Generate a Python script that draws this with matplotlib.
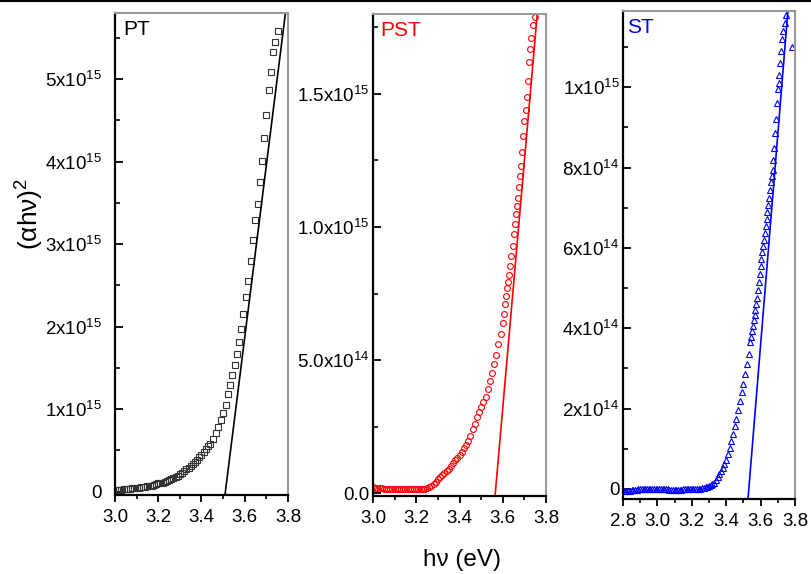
import matplotlib
matplotlib.use("Agg")
import matplotlib.pyplot as plt
from matplotlib.lines import Line2D
from matplotlib.ticker import MultipleLocator

plt.rcParams['font.family'] = ['Liberation Sans', 'DejaVu Sans']
plt.rcParams['mathtext.fontset'] = 'custom'
plt.rcParams['mathtext.rm'] = 'Liberation Sans'
plt.rcParams['mathtext.default'] = 'regular'

# PT (squares, black), y in 1e15
pt_x = [3.00, 3.01, 3.02, 3.03, 3.04, 3.05, 3.06, 3.07, 3.08, 3.09, 3.10, 3.11,
        3.12, 3.13, 3.14, 3.15, 3.16, 3.17, 3.18, 3.19, 3.20, 3.21, 3.22, 3.23,
        3.24, 3.25, 3.26, 3.27, 3.28, 3.29, 3.30, 3.31, 3.32, 3.33, 3.34, 3.35,
        3.36, 3.37, 3.38, 3.39, 3.40, 3.41, 3.42, 3.43, 3.44, 3.455,
        3.467, 3.478, 3.488, 3.498, 3.512, 3.523, 3.532, 3.542, 3.555, 3.565,
        3.573, 3.581, 3.593, 3.606, 3.616, 3.628, 3.640, 3.647, 3.663, 3.670,
        3.678, 3.690, 3.700, 3.712, 3.722, 3.731, 3.742, 3.752]
pt_y = [0.02, 0.02, 0.02, 0.025, 0.03, 0.03, 0.03, 0.035, 0.04, 0.045, 0.05, 0.05,
        0.055, 0.06, 0.06, 0.065, 0.07, 0.075, 0.08, 0.09, 0.10, 0.105, 0.11, 0.12,
        0.13, 0.14, 0.15, 0.165, 0.18, 0.195, 0.21, 0.23, 0.25, 0.27, 0.29, 0.315,
        0.34, 0.365, 0.39, 0.42, 0.45, 0.485, 0.52, 0.55, 0.58, 0.64,
        0.71, 0.79, 0.87, 0.95, 1.05, 1.18, 1.29, 1.41, 1.53, 1.67,
        1.81, 1.97, 2.15, 2.36, 2.55, 2.79, 3.05, 3.29, 3.49, 3.75,
        4.01, 4.29, 4.57, 4.87, 5.09, 5.33, 5.45, 5.58]
pt_fit_x = [3.508, 3.80]
pt_fit_y = [-0.05, 6.05]

# PST (circles, red), y in 1e14
pst_x = [3.00, 3.01, 3.02, 3.03, 3.04, 3.05, 3.06, 3.07, 3.08, 3.09, 3.10, 3.11,
         3.12, 3.13, 3.14, 3.15, 3.16, 3.17, 3.18, 3.19, 3.20, 3.21, 3.22, 3.23,
         3.24, 3.25, 3.26, 3.27, 3.28, 3.29, 3.30, 3.31, 3.32, 3.33, 3.34, 3.35,
         3.36, 3.37, 3.38, 3.39, 3.40, 3.41, 3.42, 3.43, 3.44, 3.45, 3.46, 3.47,
         3.48, 3.49, 3.50, 3.51, 3.52, 3.53, 3.54, 3.55, 3.56, 3.57, 3.58, 3.59,
         3.60, 3.605, 3.61, 3.615, 3.62, 3.625, 3.63, 3.635, 3.64, 3.645, 3.65,
         3.655, 3.66, 3.665, 3.67, 3.675, 3.68, 3.685, 3.69, 3.695, 3.70, 3.705,
         3.71, 3.715, 3.72, 3.725, 3.73, 3.74, 3.75]
pst_y = [0.22, 0.21, 0.20, 0.20, 0.19, 0.18, 0.18, 0.18, 0.17, 0.17, 0.17, 0.16,
         0.16, 0.16, 0.16, 0.15, 0.15, 0.15, 0.15, 0.15, 0.15, 0.15, 0.16, 0.17,
         0.18, 0.21, 0.24, 0.29, 0.34, 0.42, 0.52, 0.61, 0.70, 0.77, 0.84, 0.93,
         1.02, 1.13, 1.24, 1.34, 1.45, 1.57, 1.70, 1.83, 1.96, 2.17, 2.40, 2.62,
         2.85, 3.05, 3.25, 3.42, 3.60, 3.90, 4.20, 4.50, 4.85, 5.20, 5.60, 6.00,
         6.40, 6.75, 7.10, 7.40, 7.70, 7.95, 8.20, 8.55, 8.90, 9.30, 9.75,
         10.1, 10.5, 10.8, 11.1, 11.5, 11.9, 12.3, 12.8, 13.4, 14.0, 14.4,
         14.9, 15.5, 16.2, 16.7, 17.1, 17.6, 17.9]
pst_fit_x = [3.562, 3.77]
pst_fit_y = [-0.3, 19.0]

# ST (triangles, blue), y in 1e14
st_x = [2.80, 2.81, 2.82, 2.83, 2.84, 2.85, 2.86, 2.87, 2.88, 2.89, 2.90, 2.91,
        2.92, 2.93, 2.94, 2.95, 2.96, 2.97, 2.98, 2.99, 3.00, 3.01, 3.02, 3.03,
        3.04, 3.05, 3.06, 3.07, 3.08, 3.09, 3.10, 3.11, 3.12, 3.13, 3.14, 3.15,
        3.16, 3.17, 3.18, 3.19, 3.20, 3.21, 3.22, 3.23, 3.24, 3.25, 3.26, 3.27,
        3.28, 3.29, 3.30, 3.31, 3.32, 3.33, 3.34, 3.35, 3.36, 3.37, 3.38, 3.39,
        3.40, 3.41, 3.42, 3.43, 3.44, 3.45, 3.46, 3.47, 3.48, 3.49, 3.50, 3.51,
        3.52, 3.53, 3.54, 3.545, 3.55, 3.555, 3.56, 3.565, 3.57, 3.575, 3.58,
        3.585, 3.59, 3.595, 3.60, 3.605, 3.61, 3.615, 3.62, 3.625, 3.63, 3.635,
        3.64, 3.645, 3.65, 3.655, 3.66, 3.665, 3.67, 3.675, 3.68, 3.685, 3.69,
        3.695, 3.70, 3.705, 3.71, 3.715, 3.72, 3.725, 3.73, 3.74, 3.75, 3.78]
st_y = [-0.05, -0.05, -0.05, -0.04, -0.04, -0.03, -0.03, -0.02, -0.02, -0.01, -0.01, 0.00,
        0.00, 0.01, 0.01, 0.01, 0.01, 0.01, 0.01, 0.00, 0.00, 0.00, 0.00, -0.01,
        -0.01, -0.01, -0.01, -0.02, -0.02, -0.02, -0.02, -0.02, -0.02, -0.02, -0.02, -0.01,
        -0.01, -0.01, -0.01, -0.01, -0.01, 0.00, 0.00, 0.00, 0.01, 0.01, 0.02, 0.03,
        0.04, 0.05, 0.07, 0.09, 0.12, 0.16, 0.22, 0.29, 0.36, 0.44, 0.52, 0.62,
        0.72, 0.86, 1.02, 1.20, 1.38, 1.56, 1.74, 1.96, 2.20, 2.41, 2.62, 2.85,
        3.10, 3.37, 3.65, 3.78, 3.92, 4.06, 4.20, 4.32, 4.45, 4.60, 4.75,
        4.95, 5.15, 5.35, 5.55, 5.72, 5.90, 6.05, 6.20, 6.38, 6.55, 6.72,
        6.90, 7.08, 7.25, 7.45, 7.65, 7.80, 7.95, 8.20, 8.50, 8.85, 9.20,
        9.60, 9.95, 10.1, 10.3, 10.6, 10.9, 11.2, 11.4, 11.6, 11.8, 11.0]
st_fit_x = [3.526, 3.78]
st_fit_y = [-0.3, 13.0]

pt_yticks = [0, 1, 2, 3, 4, 5]
pt_ylabels = ['0', '1x10$^{15}$', '2x10$^{15}$', '3x10$^{15}$', '4x10$^{15}$', '5x10$^{15}$']
pst_yticks = [0, 5, 10, 15]
pst_ylabels = ['0.0', '5.0x10$^{14}$', '1.0x10$^{15}$', '1.5x10$^{15}$']
st_yticks = [0, 2, 4, 6, 8, 10]
st_ylabels = ['0', '2x10$^{14}$', '4x10$^{14}$', '6x10$^{14}$', '8x10$^{14}$', '1x10$^{15}$']

fig = plt.figure(figsize=(8.12, 5.74), dpi=100)

panels = [
    dict(rect=[0.1416, 0.1376, 0.2131, 0.8397], x=pt_x, y=pt_y, fx=pt_fit_x, fy=pt_fit_y,
         color='black', mcolor='#333333', marker='s', ms=3.8, name='PT',
         xlim=(3.0, 3.8), ylim=(-0.04, 5.8), yt=pt_yticks, yl=pt_ylabels, ymin=0.5,
         xt=[3.0, 3.2, 3.4, 3.6, 3.8], pad=9.5, tx=0.046),
    dict(rect=[0.4594, 0.1359, 0.2131, 0.8397], x=pst_x, y=pst_y, fx=pst_fit_x, fy=pst_fit_y,
         color='red', mcolor='red', marker='o', ms=4.2, name='PST',
         xlim=(3.0, 3.8), ylim=(-0.1, 18.0), yt=pst_yticks, yl=pst_ylabels, ymin=2.5,
         xt=[3.0, 3.2, 3.4, 3.6, 3.8], pad=2.5, tx=0.04),
    dict(rect=[0.7672, 0.1307, 0.2118, 0.8502], x=st_x, y=st_y, fx=st_fit_x, fy=st_fit_y,
         color='blue', mcolor='blue', marker='^', ms=4.8, name='ST',
         xlim=(2.8, 3.8), ylim=(-0.25, 11.9), yt=st_yticks, yl=st_ylabels, ymin=1.0,
         xt=[2.8, 3.0, 3.2, 3.4, 3.6, 3.8], pad=2.5, tx=0.023),
]

for p in panels:
    ax = fig.add_axes(p['rect'])
    ax.plot(p['x'], p['y'], linestyle='none', marker=p['marker'], ms=p['ms'],
            mfc='none', mec=p['mcolor'], mew=0.8)
    ax.plot(p['fx'], p['fy'], color=p['color'], lw=1.2)
    ax.set_xlim(*p['xlim'])
    ax.set_ylim(*p['ylim'])
    ax.set_xticks(p['xt'], ['%.1f' % v for v in p['xt']])
    ax.xaxis.set_minor_locator(MultipleLocator(0.1))
    ax.set_yticks(p['yt'], p['yl'])
    ax.yaxis.set_minor_locator(MultipleLocator(p['ymin']))
    ax.tick_params(axis='x', which='major', direction='out', length=5, width=1.3,
                   labelsize=13.5, pad=5)
    ax.tick_params(axis='x', which='minor', direction='out', length=3, width=1.2)
    ax.tick_params(axis='y', which='major', direction='in', length=6, width=1.3,
                   labelsize=13.5, pad=p['pad'])
    ax.tick_params(axis='y', which='minor', direction='in', length=3.5, width=1.2)
    for side in ['left', 'bottom']:
        ax.spines[side].set_linewidth(1.6)
        ax.spines[side].set_color('black')
    for side in ['top', 'right']:
        ax.spines[side].set_linewidth(1.5)
        ax.spines[side].set_color('#999999')
    ax.text(p['tx'], 0.985, p['name'], transform=ax.transAxes, color=p['color'],
            fontsize=15, ha='left', va='top')

fig.text(0.037, 0.627, '(\u03b1h\u03bd)$^2$', rotation=90, fontsize=19,
         ha='center', va='center')
fig.text(0.569, 0.024, 'h\u03bd (eV)', fontsize=17.5, ha='center', va='center')
fig.add_artist(Line2D([0, 1], [0.9985, 0.9985], color='black', lw=1.5,
                      transform=fig.transFigure))

fig.savefig('out.png', dpi=100)
